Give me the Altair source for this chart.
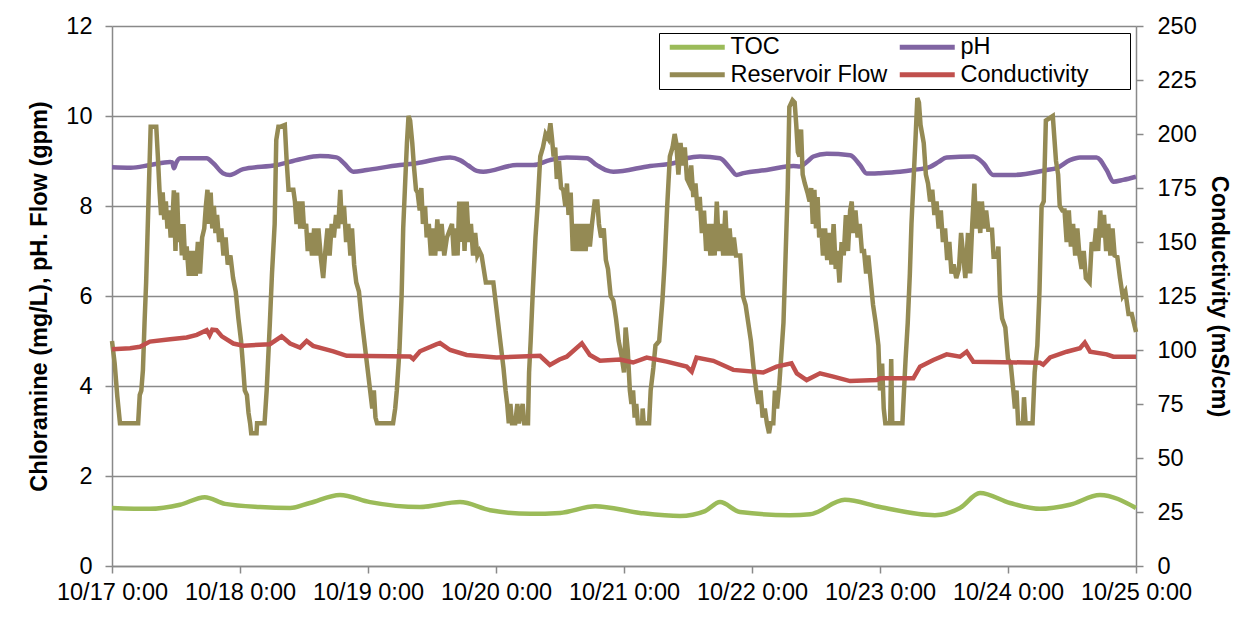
import altair as alt
import pandas as pd

# ---------------- data ----------------
tick_hours = [0, 24, 48, 72, 96, 120, 144, 168, 192]
tick_labels = ["10/17 0:00", "10/18 0:00", "10/19 0:00", "10/20 0:00", "10/21 0:00",
               "10/22 0:00", "10/23 0:00", "10/24 0:00", "10/25 0:00"]
left_ticks = [0, 2, 4, 6, 8, 10, 12]
right_ticks = [0, 25, 50, 75, 100, 125, 150, 175, 200, 225, 250]

series_names = ["TOC", "pH", "Reservoir Flow", "Conductivity"]
series_colors = ["#9BBB59", "#8064A2", "#948A54", "#C0504D"]

# (hours since 10/17 0:00, value)
toc_readings = [
    (0, 1.29), (7.1, 1.27), (12.75, 1.36), (17.4, 1.53), (21.2, 1.38), (27.75, 1.31),
    (33.4, 1.29), (37.1, 1.40), (42.75, 1.58), (48.4, 1.42), (57.75, 1.31), (65.25, 1.42),
    (70.9, 1.24), (78.4, 1.16), (84, 1.18), (90.6, 1.33), (99, 1.18), (106.5, 1.11),
    (111.2, 1.22), (114, 1.42), (117.75, 1.20), (127.1, 1.13), (130.9, 1.15), (137.4, 1.47),
    (144, 1.31), (154.3, 1.13), (159, 1.29), (162.75, 1.62), (168.4, 1.40), (174, 1.27),
    (179.6, 1.36), (185.25, 1.58), (192, 1.29),
]

ph_readings = [
    (0, 8.86), (3.5, 8.85), (7.1, 8.91), (10.9, 8.98), (11.3, 8.97), (11.6, 8.84), (12.0, 8.95),
    (12.75, 9.06), (17.75, 9.06), (19.0, 8.95), (20.8, 8.73), (22.1, 8.69), (24.6, 8.82),
    (30.9, 8.91), (35.25, 9.04), (39.0, 9.11), (42.1, 9.08), (43.5, 8.95), (45.25, 8.76),
    (47.75, 8.80), (54.0, 8.91), (57.1, 8.95), (63.4, 9.08), (65.25, 9.02), (66.8, 8.90),
    (68.4, 8.78), (69.6, 8.76), (75.9, 8.91), (79.0, 8.91), (82.1, 9.02), (85.25, 9.08),
    (89.0, 9.06), (90.9, 8.91), (92.75, 8.79), (94.0, 8.76), (100.9, 8.89), (105.25, 8.95),
    (107.75, 9.06), (110.25, 9.10), (114.0, 9.06), (115.9, 8.84), (117.1, 8.69), (118.4, 8.73),
    (122.75, 8.80), (127.75, 8.89), (129.0, 8.88), (130.5, 9.00), (131.5, 9.10), (134.0, 9.16),
    (138.4, 9.13), (140.25, 8.91), (141.5, 8.72), (144.0, 8.73), (147.75, 8.76), (150.25, 8.80),
    (153.4, 8.87), (155.0, 8.98), (156.5, 9.08), (161.5, 9.10), (163.4, 8.95), (165.25, 8.69),
    (169.0, 8.69), (175.25, 8.80), (177.1, 8.84), (179.6, 9.02), (181.5, 9.08), (184.6, 9.08),
    (186.5, 8.80), (187.75, 8.54), (189.6, 8.58), (192.0, 8.65),
]

flow_readings = [
    # 10/17
    (0, 5.0), (0.5, 4.5), (1.0, 3.76), (1.5, 3.17), (4.9, 3.17), (5.2, 3.8), (5.5, 3.9),
    (5.8, 4.36), (6.1, 5.4), (6.4, 6.3), (6.9, 8.36), (7.25, 9.76), (8.3, 9.76), (8.6, 9.1),
    (8.9, 8.36), (9.2, 7.8), (9.5, 8.3), (9.8, 7.7), (10.1, 8.1), (10.4, 7.5), (10.7, 7.9),
    (11.0, 7.3), (11.3, 7.6), (11.6, 8.35), (11.9, 7.0), (12.2, 8.3), (12.5, 7.2), (12.8, 7.6),
    (13.1, 6.9), (13.4, 7.6), (13.7, 6.8), (14.0, 7.1), (14.4, 6.45), (14.7, 7.0), (15.0, 6.45),
    (15.4, 7.0), (15.7, 6.45), (16.1, 7.2), (16.5, 6.5), (16.9, 7.3), (17.3, 7.5), (17.6, 8.0),
    (17.9, 8.36), (18.2, 7.6), (18.5, 8.3), (18.8, 7.5), (19.1, 8.0), (19.4, 7.4), (19.7, 7.8),
    (20.1, 7.2), (20.5, 7.5), (20.9, 6.9), (21.3, 7.3), (21.7, 6.7), (22.2, 6.9), (22.7, 6.4),
    (23.2, 6.1), (23.7, 5.5), (24.2, 5.0), (24.6, 4.4), (24.9, 3.9), (25.3, 3.8), (25.6, 3.4),
    (25.9, 3.17), (26.1, 2.95), (27.1, 2.95), (27.2, 3.17), (28.6, 3.17), (29.0, 3.9),
    (29.6, 5.4), (30.0, 6.5), (30.5, 7.6), (30.8, 9.47), (31.2, 9.76),
    # 10/18
    (31.5, 9.76), (32.4, 9.8), (32.75, 9.0), (33.1, 8.36), (34.0, 8.36), (34.3, 8.1), (34.6, 7.6),
    (35.0, 8.1), (35.3, 7.5), (35.7, 8.1), (36.0, 7.5), (36.4, 7.6), (36.7, 7.0), (37.1, 7.4),
    (37.5, 6.9), (37.9, 7.5), (38.3, 6.9), (38.7, 7.5), (39.2, 6.8), (39.6, 6.4), (40.0, 7.0),
    (40.4, 7.5), (40.8, 6.9), (41.2, 7.6), (41.6, 7.3), (42.0, 7.8), (42.4, 7.5), (42.8, 8.36),
    (43.1, 7.6), (43.5, 8.0), (43.9, 7.2), (44.3, 7.6), (44.7, 6.9), (45.0, 7.5), (45.4, 6.7),
    (45.8, 6.3), (46.3, 6.1), (46.8, 5.5), (47.4, 4.9), (47.9, 4.4), (48.4, 3.9), (48.8, 3.5),
    (49.1, 3.9), (49.4, 3.3), (49.7, 3.17), (52.7, 3.17), (53.1, 3.5), (53.4, 3.9), (53.9, 4.8),
    (54.3, 6.0), (54.6, 7.5), (55.0, 8.6), (55.3, 9.4), (55.6, 10.0), (55.9, 9.9), (56.3, 9.4),
    (56.6, 8.9), (57.0, 8.36), (57.3, 8.3), (57.7, 7.9), (58.0, 8.4), (58.3, 7.6), (58.7, 8.0),
    (59.0, 7.3), (59.4, 7.6), (59.8, 6.9), (60.2, 7.5), (60.6, 6.9), (61.0, 7.7), (61.4, 7.0),
    (61.8, 7.6), (62.3, 6.9), (62.8, 7.3),
    # 10/19
    (63.75, 7.6), (64.1, 6.9), (64.5, 7.5), (64.8, 6.9), (65.1, 8.1), (65.4, 7.2), (65.8, 8.1),
    (66.1, 7.0), (66.5, 8.1), (66.9, 7.2), (67.3, 7.6), (67.7, 6.9), (68.1, 7.4), (68.5, 6.9),
    (68.9, 7.0), (69.3, 6.9), (69.7, 6.6), (70.1, 6.3), (71.5, 6.3), (71.9, 5.9), (72.4, 5.4),
    (72.9, 4.9), (73.4, 4.4), (73.8, 3.9), (74.1, 3.6), (74.4, 3.17), (74.7, 3.6), (75.0, 3.17),
    (75.6, 3.17), (76.0, 3.6), (76.3, 3.17), (77.0, 3.6), (77.3, 3.17), (78.0, 3.17), (78.2, 4.3),
    (78.5, 5.0), (78.9, 6.1), (79.4, 7.3), (79.8, 8.0), (80.3, 9.1), (80.8, 9.3), (81.3, 9.6),
    (81.8, 9.5), (82.2, 9.84), (82.5, 9.5), (82.8, 9.1), (83.1, 9.3), (83.4, 8.6), (83.8, 9.0),
    (84.2, 8.4), (84.6, 8.36), (85.0, 8.0), (85.3, 8.5), (85.6, 7.8), (86.0, 8.3), (86.4, 7.0),
    (86.8, 7.6), (87.2, 7.0), (87.6, 7.6), (88.0, 7.0), (88.4, 7.6), (88.8, 7.0), (89.2, 7.6),
    (89.6, 7.1), (90.0, 7.6), (90.5, 8.1), (91.0, 8.1), (91.3, 7.6), (91.7, 7.3), (92.2, 7.5),
    (92.6, 6.8), (93.0, 6.6), (93.5, 6.0), (94.0, 5.9), (94.5, 5.5), (95.0, 5.0), (95.5, 4.7),
    (96.0, 4.3),
    # 10/20
    (96.3, 5.3), (96.7, 4.8), (97.1, 3.9), (97.4, 3.6), (97.7, 3.9), (98.0, 3.3), (98.3, 3.6),
    (98.6, 3.17), (99.4, 3.17), (99.5, 3.5), (99.7, 3.17), (100.7, 3.17), (101.0, 3.9),
    (101.5, 4.4), (101.9, 4.9), (102.6, 5.0), (103.2, 5.9), (103.6, 6.7), (104.1, 8.0),
    (104.6, 9.1), (105.1, 9.3), (105.5, 9.6), (105.8, 9.4), (106.2, 8.7), (106.6, 9.4),
    (107.0, 8.9), (107.4, 9.3), (107.8, 8.6), (108.2, 8.5), (108.6, 8.9), (109.0, 8.2),
    (109.4, 8.5), (109.8, 7.9), (110.2, 8.2), (110.6, 7.4), (111.0, 7.9), (111.4, 7.0),
    (111.8, 7.6), (112.2, 6.9), (112.6, 7.6), (113.0, 6.9), (113.4, 8.1), (113.8, 7.0),
    (114.2, 7.6), (114.6, 6.9), (115.0, 7.9), (115.4, 6.9), (115.8, 7.5), (116.2, 6.9),
    (116.6, 7.3), (117.0, 6.9), (117.8, 6.9), (118.3, 6.0), (118.8, 5.8), (119.3, 5.4),
    (119.8, 5.0), (120.3, 4.4), (120.8, 3.9), (121.2, 3.6), (121.6, 3.9), (122.0, 3.3),
    (122.4, 3.5), (122.8, 3.17), (123.2, 2.95), (123.5, 3.17), (124.0, 3.17), (124.3, 3.9),
    (124.7, 3.5), (125.1, 4.0), (125.5, 4.7), (125.9, 5.4), (126.3, 6.9), (126.7, 8.4),
    (127.0, 10.2), (127.6, 10.35), (128.0, 10.3), (128.3, 9.8), (128.6, 9.2),
    # 10/22
    (128.9, 9.1), (129.2, 9.7), (129.5, 8.7), (129.9, 8.5), (130.4, 8.3), (130.8, 8.1),
    (131.1, 8.4), (131.4, 7.6), (131.7, 8.36), (132.0, 7.5), (132.3, 8.2), (132.6, 7.3),
    (133.0, 7.5), (133.3, 6.9), (133.7, 7.5), (134.1, 6.8), (134.5, 7.4), (134.9, 6.7),
    (135.3, 7.6), (135.7, 6.6), (136.0, 7.0), (136.4, 6.3), (136.8, 7.2), (137.2, 6.9),
    (137.6, 7.8), (138.0, 7.0), (138.4, 7.9), (138.7, 8.1), (139.0, 7.4), (139.4, 7.9),
    (139.8, 7.3), (140.2, 7.6), (140.6, 7.0), (141.0, 7.0), (141.4, 6.5), (141.8, 6.9),
    (142.2, 6.4), (142.7, 5.8), (143.2, 5.4), (143.7, 4.9), (144.0, 3.9), (144.4, 4.5),
    (144.7, 3.5), (145.0, 3.17), (145.9, 3.17), (146.1, 4.6), (146.3, 3.17), (148.2, 3.17),
    (148.5, 3.9), (148.8, 4.6), (149.2, 5.4), (149.6, 6.5), (149.9, 7.6), (150.3, 8.6),
    (150.7, 9.6), (151.0, 10.4), (151.3, 10.3), (151.6, 9.8), (151.9, 9.6), (152.2, 9.4),
    (152.6, 8.7), (153.0, 8.5), (153.4, 8.1), (153.8, 8.36), (154.2, 7.8), (154.6, 8.1),
    (155.0, 7.5), (155.4, 7.9), (155.8, 7.2), (156.2, 7.5), (156.6, 6.8), (157.0, 7.2),
    (157.4, 6.5), (157.8, 6.7), (158.3, 6.4), (158.8, 6.6), (159.2, 7.4),
    # 10/23 - 10/25
    (159.6, 6.9), (160.0, 6.4), (160.5, 7.4), (160.9, 6.5), (161.3, 7.6), (161.7, 8.5),
    (162.0, 7.5), (162.4, 8.1), (162.8, 7.4), (163.1, 8.1), (163.5, 7.5), (163.9, 7.9),
    (164.3, 7.47), (165.0, 7.47), (165.3, 6.87), (166.0, 6.87), (166.2, 7.1), (166.5, 6.0),
    (166.9, 5.5), (167.5, 5.3), (168.0, 4.6), (168.5, 4.5), (169.0, 3.9), (169.3, 3.5),
    (169.6, 3.9), (169.9, 3.17), (170.8, 3.17), (171.0, 3.75), (171.3, 3.17), (172.6, 3.17),
    (173.0, 4.3), (173.5, 4.9), (173.9, 6.1), (174.3, 8.0), (174.7, 8.1), (175.1, 9.9),
    (176.4, 10.0), (176.7, 9.5), (177.0, 9.0), (177.4, 8.7), (177.7, 8.0), (178.2, 7.9),
    (178.6, 7.9), (179.0, 7.2), (179.4, 7.9), (179.8, 7.1), (180.2, 7.6), (180.6, 6.9),
    (181.0, 7.5), (181.4, 6.9), (181.8, 6.6), (182.2, 7.0), (182.6, 6.4), (183.3, 6.3),
    (183.7, 7.2), (184.1, 7.0), (184.5, 7.5), (184.9, 7.0), (185.3, 7.9), (185.6, 7.3),
    (186.0, 7.8), (186.4, 7.0), (186.8, 7.6), (187.2, 6.9), (187.6, 7.5), (188.0, 6.9),
    (188.5, 6.87), (189.0, 6.4), (189.5, 6.0), (190.0, 6.1), (190.6, 5.6), (191.2, 5.6),
    (192.0, 5.2),
]

# conductivity, right axis (mS/cm)
cond_readings = [
    (0, 100.4), (3.4, 100.8), (5.25, 101.5), (7.1, 103.9), (10.9, 105.0), (14.0, 105.8),
    (15.9, 107.0), (17.75, 109.2), (18.3, 106.8), (18.8, 109.4), (19.6, 109.2), (20.6, 106.3),
    (22.75, 103.0), (24.6, 102.0), (29.6, 102.7), (31.8, 106.3), (33.4, 103.0), (35.25, 101.1),
    (36.5, 104.2), (37.7, 101.9), (41.5, 99.4), (44.0, 97.3), (55.9, 97.0), (56.5, 95.8),
    (57.75, 99.4), (60.9, 102.7), (61.5, 103.2), (63.4, 100.0), (66.5, 97.7), (72.1, 96.5),
    (80.25, 97.3), (82.1, 93.1), (83.9, 95.6), (85.25, 96.9), (88.1, 103.1), (89.6, 97.7),
    (91.5, 95.0), (95.25, 95.6), (97.7, 94.2), (100.25, 96.5), (104.0, 94.6), (107.75, 92.3),
    (108.7, 90.0), (109.6, 96.5), (112.75, 95.0), (116.5, 90.8), (122.1, 89.6), (124.6, 92.3),
    (127.4, 93.8), (128.4, 89.2), (130.25, 86.1), (132.75, 89.2), (135.25, 87.7), (138.4, 85.6),
    (143.4, 86.1), (144.0, 86.9), (150.25, 86.9), (151.5, 92.3), (154.0, 95.4), (156.5, 98.0),
    (159.0, 96.9), (160.25, 99.2), (161.5, 94.6), (174.0, 94.1), (174.6, 93.2), (175.9, 96.6),
    (179.0, 99.2), (181.5, 100.8), (182.4, 103.4), (183.4, 99.2), (186.5, 98.0), (187.75, 96.9),
    (192.0, 96.9),
]


def frame(name, readings):
    return pd.DataFrame({
        "series": name,
        "hour": [r[0] for r in readings],
        "value": [r[1] for r in readings],
    })


toc_df = frame("TOC", toc_readings)
ph_df = frame("pH", ph_readings)
flow_df = frame("Reservoir Flow", flow_readings)
cond_df = frame("Conductivity", cond_readings)

FONT = "Liberation Sans"
GRAY = "#898989"
NBSP = "\u00a0"
ZWSP = "\u200b"

label_js = "[" + ",".join("'" + t + "'" for t in tick_labels) + "]"

x_enc = alt.X(
    "hour:Q",
    scale=alt.Scale(domain=[tick_hours[0], tick_hours[-1]], nice=False, zero=False),
    axis=alt.Axis(values=tick_hours, labelExpr=label_js + "[round(datum.value/24)]",
                  grid=False, title=None, labelPadding=7, labelFlush=False,
                  labelOverlap=False),
)

# trailing non-breaking spaces (kept by a zero-width end mark) widen the legend box
legend_label_expr = ("datum.label == 'Conductivity' ? 'Conductivity" + NBSP * 6 + ZWSP
                     + "' : datum.label")

color_enc = alt.Color(
    "series:N",
    scale=alt.Scale(domain=series_names, range=series_colors),
    legend=alt.Legend(
        title=None, orient="none", legendX=547, legendY=7, columns=2,
        direction="horizontal",
        symbolType="M-2,0H8", symbolSize=121, symbolStrokeWidth=5,
        symbolOffset=8, labelOffset=38, padding=2, rowPadding=3,
        columnPadding=1, strokeColor="black", fillColor="white",
        labelExpr=legend_label_expr,
        labelFontSize=23.5, labelFont=FONT, labelLimit=400, labelColor="black",
    ),
)

y_left = alt.Y(
    "value:Q",
    scale=alt.Scale(domain=[0, 12], nice=False),
    axis=alt.Axis(values=left_ticks, title="Chloramine (mg/L), pH. Flow (gpm)",
                  grid=True, labelPadding=13, titlePadding=14),
)
y_right = alt.Y(
    "value:Q",
    scale=alt.Scale(domain=[0, 250], nice=False),
    axis=alt.Axis(values=right_ticks, orient="right", title="Conductivity (mS/cm)",
                  grid=False, labelPadding=14, titlePadding=10),
)

toc = alt.Chart(toc_df).mark_line(strokeWidth=4.5, interpolate="monotone").encode(
    x=x_enc, y=y_left, color=color_enc)
ph = alt.Chart(ph_df).mark_line(strokeWidth=4.5, interpolate="monotone").encode(
    x=x_enc, y=y_left, color=color_enc)
flow = alt.Chart(flow_df).mark_line(strokeWidth=4.5).encode(
    x=x_enc, y=y_left, color=color_enc)
cond = alt.Chart(cond_df).mark_line(strokeWidth=4.5).encode(
    x=x_enc, y=y_right, color=color_enc)

left = alt.layer(toc, ph, flow)

chart = (
    alt.layer(left, cond)
    .resolve_scale(y="independent")
    .properties(width=1024, height=540,
                padding={"left": 104, "top": 18, "right": 102, "bottom": 46},
                autosize=alt.AutoSizeParams(type="none"))
    .configure_view(stroke="transparent")
    .configure_axis(
        domainColor=GRAY, tickColor=GRAY, gridColor=GRAY,
        domainWidth=1.5, tickWidth=1.5, gridWidth=1.5, tickSize=7,
        labelFont=FONT, labelFontSize=23.5, labelColor="black",
        titleFont=FONT, titleFontSize=23.5, titleFontWeight="bold", titleColor="black",
    )
    .configure_legend(labelFont=FONT)
)

chart.save("out.html", embed_options={"renderer": "svg", "actions": False})
